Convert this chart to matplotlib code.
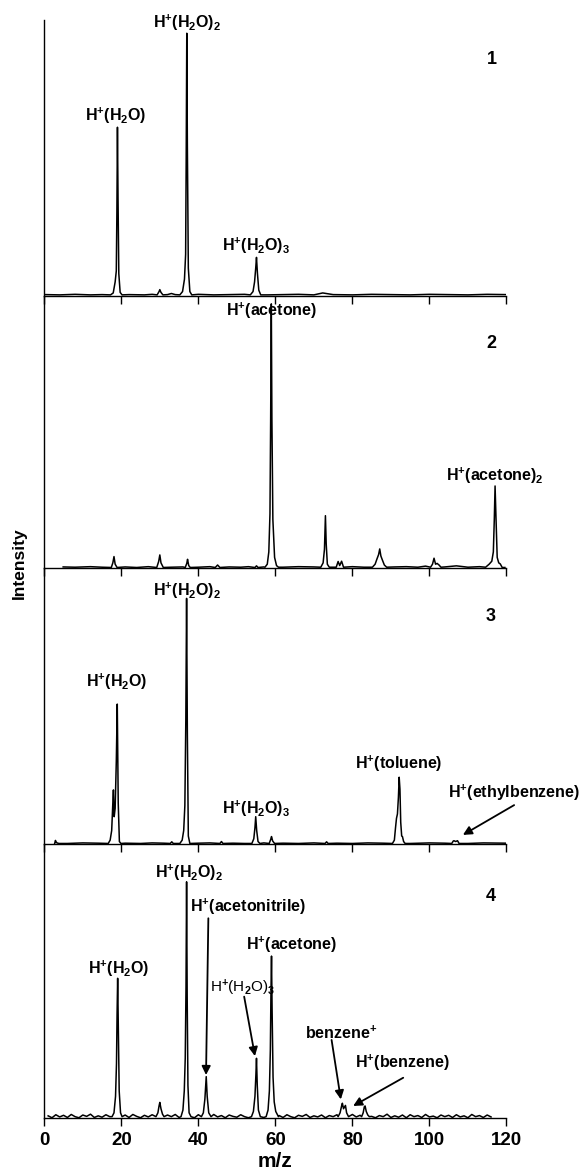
import numpy as np
import matplotlib
matplotlib.use("Agg")
import matplotlib.pyplot as plt

plt.rcParams["font.family"] = ["Liberation Sans", "DejaVu Sans"]
plt.rcParams["font.weight"] = "bold"
plt.rcParams["mathtext.fontset"] = "custom"
plt.rcParams["mathtext.rm"] = "Liberation Sans:bold"
plt.rcParams["mathtext.sf"] = "Liberation Sans"
plt.rcParams["mathtext.default"] = "rm"

# ---- spectra: baseline points (m/z, intensity in % of panel) ----
base1_x = [0.3, 4, 8, 12, 15, 22, 26, 28, 32, 33, 34, 40, 44, 48, 52, 58, 62, 66, 70, 72.3, 75, 80, 85, 90, 95, 100, 105, 110, 115, 120]
base1_y = [0.4, 0.3, 0.5, 0.3, 0.4, 0.4, 0.3, 0.5, 0.4, 0.8, 0.4, 0.5, 0.3, 0.4, 0.5, 0.3, 0.4, 0.5, 0.3, 1.0, 0.4, 0.3, 0.5, 0.4, 0.3, 0.5, 0.4, 0.3, 0.5, 0.4]

base2_x = [4.9, 8, 12, 15, 21, 24, 27, 33, 36, 40, 43, 48, 51, 53, 57, 62, 66, 70, 75, 80, 83, 91, 94, 97, 99, 104, 107, 110, 113, 119.6]
base2_y = [0.5, 0.4, 0.6, 0.4, 0.5, 0.3, 0.6, 0.4, 0.5, 0.4, 0.6, 0.5, 0.4, 0.6, 0.5, 0.4, 0.6, 0.5, 0.4, 0.6, 0.4, 0.5, 0.6, 0.4, 0.8, 0.5, 0.9, 0.4, 0.6, 0.3]

base3_x = [2.7, 6, 10, 14, 21, 25, 28, 31, 40, 43, 49, 52, 57, 62, 66, 70, 76, 80, 84, 88, 95, 100, 104, 110, 114, 120]
base3_y = [0.4, 0.3, 0.5, 0.4, 0.4, 0.3, 0.5, 0.4, 0.4, 0.5, 0.4, 0.3, 0.5, 0.4, 0.3, 0.5, 0.4, 0.3, 0.5, 0.4, 0.3, 0.5, 0.4, 0.3, 0.5, 0.4]

base4_x = list(range(1, 117))
base4_y = [0.9, 0.2, 1.3, 0.5, 1.1, 0.3, 1.4, 0.6, 0.2, 1.2, 0.7, 1.5, 0.3, 0.9, 0.4, 1.3, 0.6, 0.2, 1.0, 0.5,
           1.2, 0.3, 1.4, 0.7, 0.2, 1.1, 0.5, 1.3, 0.4, 0.9, 0.2, 1.2, 0.6, 1.4, 0.3, 0.8, 0.5, 1.1, 0.2, 1.3,
           0.6, 0.9, 0.3, 1.4, 0.5, 1.0, 0.2, 1.2, 0.7, 0.4, 1.3, 0.6, 0.2, 1.1, 0.5, 1.4, 0.3, 0.8, 1.2, 0.4,
           1.0, 0.3, 1.3, 0.6, 0.2, 1.1, 0.7, 1.4, 0.3, 0.9, 0.5, 1.2, 0.2, 1.0, 0.6, 1.3, 0.4, 0.8, 0.2, 1.4,
           0.5, 1.1, 0.3, 1.2, 0.7, 0.2, 1.0, 0.6, 1.5, 0.3, 0.9, 0.4, 1.2, 0.2, 1.3, 0.6, 1.0, 0.3, 1.4, 0.5,
           0.8, 0.2, 1.2, 0.6, 1.1, 0.3, 1.3, 0.5, 0.9, 0.2, 1.4, 0.6, 1.0, 0.3, 1.2, 0.5]

# ---- peaks: vertices (m/z, intensity %) ----
peaks1 = [
    ([17.2, 17.9, 18.4, 18.7, 18.85, 19.0, 19.15, 19.35, 19.7, 20.2], [0.3, 1.0, 5, 9, 30, 61.1, 35, 8, 1.2, 0.3]),
    ([29.3, 29.8, 30.0, 30.3, 30.8], [0.3, 1.5, 2.2, 1.2, 0.3]),
    ([35.2, 35.9, 36.4, 36.7, 36.85, 37.0, 37.15, 37.4, 37.8, 38.3], [0.3, 1.5, 6, 15, 50, 95.2, 55, 10, 1.5, 0.3]),
    ([53.5, 54.2, 54.6, 54.9, 55.1, 55.35, 55.7, 56.2], [0.3, 1.5, 5, 10, 13.9, 8, 2, 0.3]),
]
peaks2 = [
    ([17.4, 17.8, 18.1, 18.4, 18.9], [0.3, 2.0, 4.3, 1.5, 0.3]),
    ([29.2, 29.7, 30.0, 30.3, 30.9], [0.3, 2.5, 4.9, 2.0, 0.3]),
    ([36.6, 37.0, 37.2, 37.5, 37.9], [0.3, 1.8, 3.3, 1.0, 0.3]),
    ([44.4, 45.0, 45.6], [0.3, 1.2, 0.3]),
    ([54.7, 55.1, 55.5], [0.3, 0.9, 0.3]),
    ([57.3, 57.9, 58.3, 58.6, 58.78, 58.95, 59.1, 59.35, 59.8, 60.3, 60.8], [0.4, 1.5, 6, 20, 55, 97, 55, 18, 4, 1.0, 0.4]),
    ([71.8, 72.4, 72.75, 73.0, 73.2, 73.5, 74.0], [0.4, 2, 7, 19.3, 9, 1.5, 0.4]),
    ([75.8, 76.3, 76.7, 77.2, 77.7], [0.4, 2.5, 1.0, 2.6, 0.4]),
    ([85.2, 85.9, 86.4, 86.8, 87.1, 87.4, 87.8, 88.3, 88.9], [0.4, 1.5, 3.5, 5, 7.1, 4.5, 3, 1.2, 0.4]),
    ([100.3, 100.8, 101.2, 101.6, 102.0, 102.5, 103.0], [0.4, 1.5, 3.7, 1.5, 1.8, 1.2, 0.4]),
    ([114.6, 115.5, 116.2, 116.6, 116.85, 117.05, 117.3, 117.6, 118.0, 118.4, 118.9], [0.4, 1.5, 2.6, 6, 18, 30.2, 18, 4, 2.0, 1.6, 0.3]),
]
peaks3 = [
    ([2.7, 2.9, 3.0, 3.3, 3.8], [0.3, 1.4, 1.0, 0.5, 0.3]),
    ([16.6, 17.1, 17.5, 17.8, 17.95, 18.15, 18.4, 18.7, 18.95, 19.2, 19.5, 19.9], [0.3, 1.5, 5, 15, 19.7, 10, 13, 30, 50.8, 15, 1.0, 0.3]),
    ([32.7, 33.1, 33.5], [0.3, 0.9, 0.3]),
    ([35.2, 35.8, 36.2, 36.5, 36.75, 36.95, 37.15, 37.4, 37.8], [0.3, 1.5, 5, 14, 45, 89.1, 40, 3, 0.3]),
    ([45.6, 46.0, 46.4], [0.3, 1.0, 0.3]),
    ([53.9, 54.4, 54.7, 54.9, 55.15, 55.5, 56.0], [0.3, 2, 6, 10, 5, 1, 0.3]),
    ([58.4, 58.8, 59.0, 59.3, 59.8], [0.3, 1.8, 2.8, 1.2, 0.3]),
    ([72.9, 73.3, 73.7], [0.3, 0.9, 0.3]),
    ([90.4, 90.9, 91.2, 91.45, 91.7, 91.95, 92.15, 92.35, 92.55, 92.8, 93.0, 93.3, 93.7], [0.3, 1.5, 6, 9.4, 11, 17, 24.3, 20, 8, 3.0, 2.8, 1.0, 0.3]),
    ([105.8, 106.2, 106.4, 106.8, 107.3, 107.7], [0.3, 1.2, 1.3, 1.0, 1.3, 0.3]),
]
peaks4 = [
    ([17.6, 18.1, 18.5, 18.75, 18.9, 19.05, 19.2, 19.45, 19.8, 20.2], [0.6, 2, 8, 20, 38, 51.1, 35, 10, 2, 0.6]),
    ([29.0, 29.5, 29.8, 30.0, 30.3, 30.7, 31.1], [0.6, 2, 4.5, 5.8, 3.5, 1.5, 0.6]),
    ([35.5, 36.0, 36.35, 36.6, 36.8, 36.95, 37.1, 37.3, 37.6, 38.1], [0.6, 3, 10, 22, 48, 86.3, 45, 12, 2, 0.6]),
    ([40.8, 41.3, 41.7, 41.9, 42.05, 42.3, 42.7, 43.3], [0.6, 2, 7, 12, 15.2, 8, 2, 0.6]),
    ([53.8, 54.3, 54.7, 54.95, 55.1, 55.3, 55.6, 56.1], [0.6, 2.5, 8, 16, 21.9, 12, 3, 0.6]),
    ([57.6, 58.1, 58.45, 58.7, 58.85, 59.0, 59.15, 59.4, 59.7, 60.1, 60.8], [0.6, 3, 10, 25, 45, 59.2, 40, 15, 6, 2.5, 0.6]),
    ([76.3, 76.8, 77.2, 77.4, 77.7, 77.9, 78.2, 78.5, 79.0], [0.6, 2, 4.5, 5.5, 3.5, 4.0, 4.7, 2, 0.6]),
    ([82.4, 82.8, 83.1, 83.3, 83.6, 84.0, 84.4], [0.6, 2, 4.2, 4.5, 2.5, 1.2, 0.6]),
]

# ---- labels: (text, m/z, intensity %) ----
W1 = r"H$^{{+}}$(H$_2$O)"
W2 = r"H$^{{+}}$(H$_2$O)$_2$"
W3 = r"H$^{{+}}$(H$_2$O)$_3$"
labels1 = [(W1, 18.6, 65.4), (W2, 37.2, 98.8), (W3, 54.9, 18.1)]
labels2 = [(r"H$^{{+}}$(acetone)", 59.0, 94.4), (r"H$^{{+}}$(acetone)$_2$", 117.0, 33.9)]
labels3 = [(W1, 18.8, 58.9), (W2, 37.0, 91.8), (W3, 55.0, 12.8),
           (r"H$^{{+}}$(toluene)", 92.1, 29.1), (r"H$^{{+}}$(ethylbenzene)", 121.9, 18.8)]
labels4 = [(W1, 19.4, 54.5), (W2, 37.7, 89.5), (r"H$^{{+}}$(acetonitrile)", 52.8, 77.2),
           (r"H$^{{+}}$(acetone)", 64.1, 63.2), (r"benzene$^{{+}}$", 77.1, 31.0),
           (r"H$^{{+}}$(benzene)", 93.0, 20.1)]
small_label4 = (r"H$^{\mathsf{{+}}}$(H$_{\mathsf{2}}$O)$_{\mathsf{3}}$", 51.4, 47.7)

# arrows: (tail m/z, tail %, head m/z, head %)
arrows3 = [(122.0, 14.2, 108.7, 3.4)]
arrows4 = [(42.6, 73.0, 42.0, 15.8), (51.9, 44.4, 54.7, 22.7),
           (74.6, 28.6, 77.0, 6.9), (93.2, 14.8, 80.2, 4.5)]

panel_numbers = ["1", "2", "3", "4"]
number_pos = [(116.1, 85.6), (116.1, 82.5), (115.9, 82.5), (115.9, 80.9)]

xticks = [0, 20, 40, 60, 80, 100, 120]


def build_trace(base_x, base_y, peaks):
    bx = np.array(base_x, dtype=float)
    by = np.array(base_y, dtype=float)
    keep = np.ones(len(bx), dtype=bool)
    for px, _ in peaks:
        keep &= ~((bx >= min(px)) & (bx <= max(px)))
    xs = [bx[keep]] + [np.array(px) for px, _ in peaks]
    ys = [by[keep]] + [np.array(py) for _, py in peaks]
    x = np.concatenate(xs)
    y = np.concatenate(ys)
    order = np.argsort(x, kind="stable")
    return x[order], y[order]


fig = plt.figure(figsize=(5.85, 11.76), dpi=100)
tops = [0.98299, 0.74855, 0.51675, 0.28206]
bottoms = [0.74855, 0.51675, 0.28206, 0.04906]
left, right = 0.0757, 0.8657

spectra = [(base1_x, base1_y, peaks1), (base2_x, base2_y, peaks2),
           (base3_x, base3_y, peaks3), (base4_x, base4_y, peaks4)]
all_labels = [labels1, labels2, labels3, labels4]
all_arrows = [[], [], arrows3, arrows4]

for i in range(4):
    ax = fig.add_axes([left, bottoms[i], right - left, tops[i] - bottoms[i]])
    ax.set_facecolor("none")
    x, y = build_trace(*spectra[i])
    ax.plot(x, y, color="black", lw=1.1)
    ax.set_xlim(0, 120)
    ax.set_ylim(0, 100)
    ax.set_yticks([])
    ax.set_xticks(xticks)
    ax.spines["top"].set_visible(False)
    ax.spines["right"].set_visible(False)
    ax.spines["left"].set_linewidth(1.0)
    ax.spines["bottom"].set_linewidth(1.0)
    ax.tick_params(axis="x", direction="out", length=6, width=1.0,
                   labelbottom=(i == 3), labelsize=13.5, pad=4)

    for text, mx, my in all_labels[i]:
        ax.text(mx, my, text, ha="center", va="center", fontsize=11.5,
                fontweight="bold", clip_on=False)
    for tx, ty, hx, hy in all_arrows[i]:
        ax.annotate("", xy=(hx, hy), xytext=(tx, ty),
                    arrowprops=dict(arrowstyle="-|>", color="black", lw=1.3,
                                    mutation_scale=13, shrinkA=0, shrinkB=0))
    nx, ny = number_pos[i]
    ax.text(nx, ny, panel_numbers[i], ha="center", va="center",
            fontsize=13, fontweight="bold")

    if i == 3:
        text, mx, my = small_label4
        ax.text(mx, my, text, ha="center", va="center", fontsize=11,
                fontweight="normal")
        ax.set_xlabel("m/z", fontsize=15, fontweight="bold", labelpad=2)

fig.text(19 / 585, 1 - 563 / 1176, "Intensity", rotation=90, ha="center",
         va="center", fontsize=12.5, fontweight="bold")

fig.savefig("out.png", dpi=100)
